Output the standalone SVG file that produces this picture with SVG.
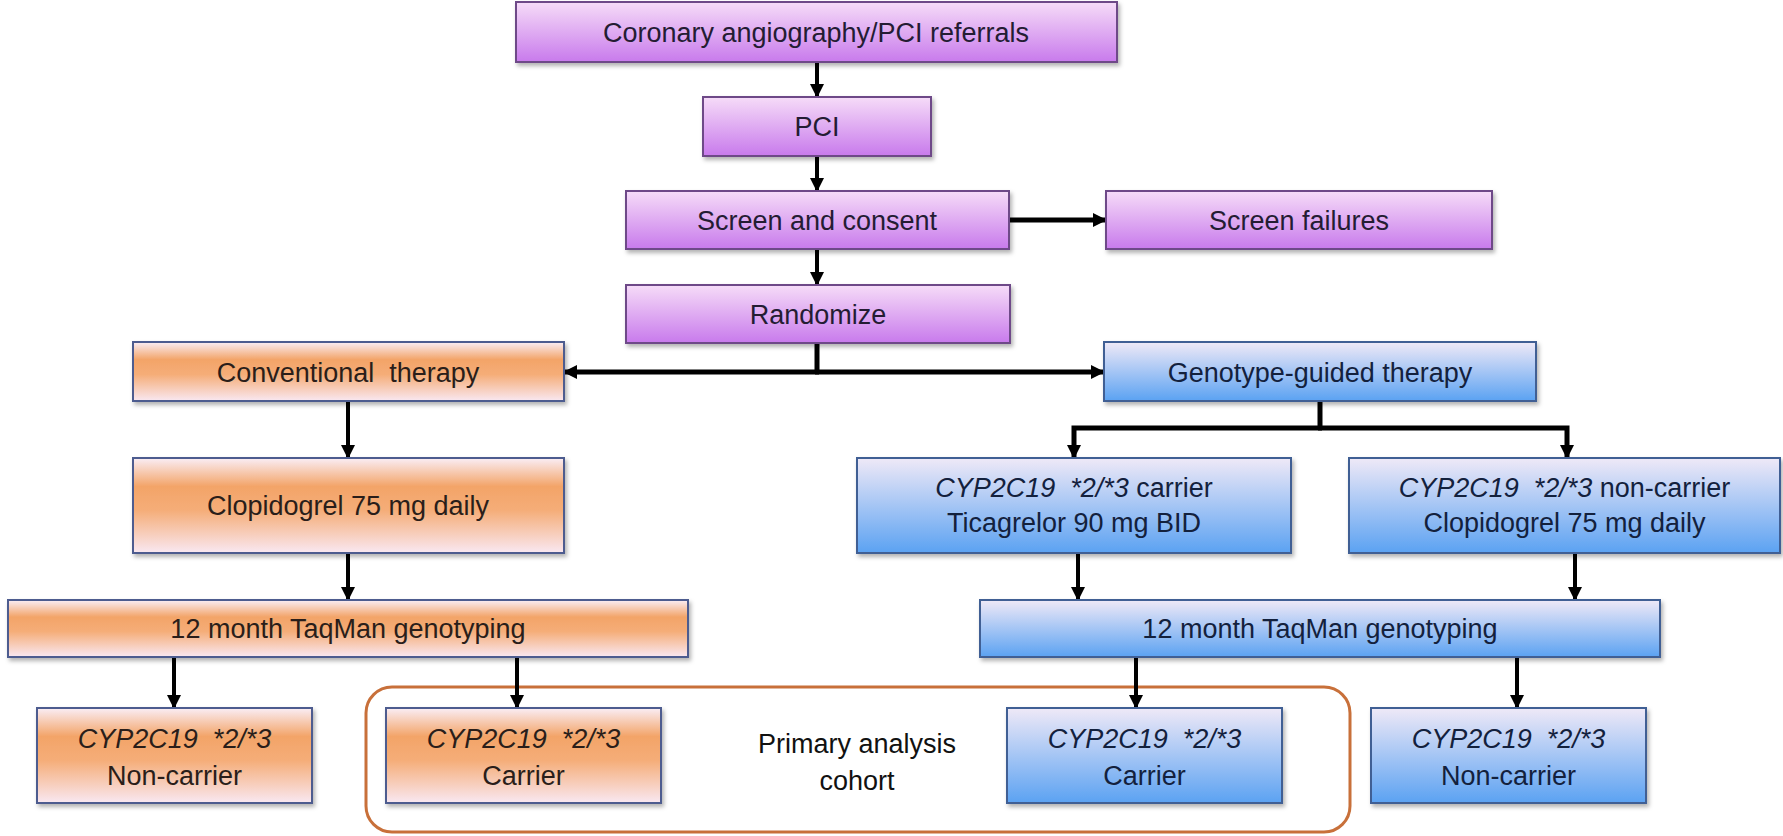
<svg xmlns="http://www.w3.org/2000/svg" width="1783" height="836" viewBox="0 0 1783 836">
<defs>
<linearGradient id="gPurple" x1="0" y1="0" x2="0" y2="1">
<stop offset="0" stop-color="#f6dcf8"/>
<stop offset="1" stop-color="#c87aec"/>
</linearGradient>
<linearGradient id="gOrange" x1="0" y1="0" x2="0" y2="1">
<stop offset="0" stop-color="#faeef6"/>
<stop offset="0.3" stop-color="#f3a468"/>
<stop offset="0.55" stop-color="#f5ad78"/>
<stop offset="1" stop-color="#f9e8f2"/>
</linearGradient>
<linearGradient id="gBlue" x1="0" y1="0" x2="0" y2="1">
<stop offset="0" stop-color="#efe9f7"/>
<stop offset="1" stop-color="#5ba2f2"/>
</linearGradient>
<filter id="shadow" x="-5%" y="-10%" width="110%" height="130%">
<feDropShadow dx="2" dy="3" stdDeviation="2" flood-color="#000" flood-opacity="0.3"/>
</filter>
<marker id="arrow" markerUnits="userSpaceOnUse" viewBox="0 0 14 14" refX="13" refY="7" markerWidth="14" markerHeight="14" orient="auto">
<path d="M0,0 L14,7 L0,14 z" fill="#000"/>
</marker>
<style>
.p{fill:url(#gPurple);stroke:#6e4a88;stroke-width:2;filter:url(#shadow)}
.o{fill:url(#gOrange);stroke:#4d5b8f;stroke-width:2;filter:url(#shadow)}
.b{fill:url(#gBlue);stroke:#3f5f94;stroke-width:2;filter:url(#shadow)}
text{font-family:"Liberation Sans",Arial,sans-serif;font-size:27px;text-anchor:middle;fill:#241c33}
.bt{fill:#13213d}
.ot{fill:#2a1e1a}
.i{font-style:italic}
.c{fill:none;stroke:#000;stroke-width:4}
.h{fill:none;stroke:#000;stroke-width:5}
</style>
</defs>
<rect width="1783" height="836" fill="#fff"/>

<g id="cohort">
<rect x="366" y="687" width="984" height="145" rx="26" fill="none" stroke="#c8703a" stroke-width="3"/>
<text x="857" y="753" fill="#111" style="fill:#111">Primary analysis</text>
<text x="857" y="790" style="fill:#111">cohort</text>
</g>

<g id="connectors">
<line class="c" x1="817" y1="62" x2="817" y2="97" marker-end="url(#arrow)"/>
<line class="c" x1="817" y1="156" x2="817" y2="191" marker-end="url(#arrow)"/>
<line class="h" x1="1009" y1="220" x2="1106" y2="220" marker-end="url(#arrow)"/>
<line class="c" x1="817" y1="249" x2="817" y2="285" marker-end="url(#arrow)"/>
<line class="h" x1="817" y1="343" x2="817" y2="372"/>
<line class="h" x1="819" y1="372" x2="564" y2="372" marker-end="url(#arrow)"/>
<line class="h" x1="815" y1="372" x2="1104" y2="372" marker-end="url(#arrow)"/>
<line class="c" x1="348" y1="401" x2="348" y2="458" marker-end="url(#arrow)"/>
<line class="c" x1="348" y1="553" x2="348" y2="600" marker-end="url(#arrow)"/>
<line class="h" x1="1320" y1="401" x2="1320" y2="428"/>
<path class="h" d="M1322,428 H1074 V458" marker-end="url(#arrow)"/>
<path class="h" d="M1318,428 H1567 V458" marker-end="url(#arrow)"/>
<line class="c" x1="1078" y1="553" x2="1078" y2="600" marker-end="url(#arrow)"/>
<line class="c" x1="1575" y1="553" x2="1575" y2="600" marker-end="url(#arrow)"/>
<line class="c" x1="174" y1="657" x2="174" y2="708" marker-end="url(#arrow)"/>
<line class="c" x1="517" y1="657" x2="517" y2="708" marker-end="url(#arrow)"/>
<line class="c" x1="1136" y1="657" x2="1136" y2="708" marker-end="url(#arrow)"/>
<line class="c" x1="1517" y1="657" x2="1517" y2="708" marker-end="url(#arrow)"/>
</g>

<g id="referrals">
<rect class="p" x="516" y="2" width="601" height="60"/>
<text x="816" y="42">Coronary angiography/PCI referrals</text>
</g>
<g id="pci">
<rect class="p" x="703" y="97" width="228" height="59"/>
<text x="817" y="136">PCI</text>
</g>
<g id="screen">
<rect class="p" x="626" y="191" width="383" height="58"/>
<text x="817" y="230">Screen and consent</text>
</g>
<g id="failures">
<rect class="p" x="1106" y="191" width="386" height="58"/>
<text x="1299" y="230">Screen failures</text>
</g>
<g id="randomize">
<rect class="p" x="626" y="285" width="384" height="58"/>
<text x="818" y="324">Randomize</text>
</g>

<g id="conventional">
<rect class="o" x="133" y="342" width="431" height="59"/>
<text class="ot" x="348" y="382" xml:space="preserve">Conventional  therapy</text>
</g>
<g id="clopidogrel-left">
<rect class="o" x="133" y="458" width="431" height="95"/>
<text class="ot" x="348" y="515">Clopidogrel 75 mg daily</text>
</g>
<g id="taqman-left">
<rect class="o" x="8" y="600" width="680" height="57"/>
<text class="ot" x="348" y="638">12 month TaqMan genotyping</text>
</g>
<g id="conv-noncarrier">
<rect class="o" x="37" y="708" width="275" height="95"/>
<text class="ot i" x="174.5" y="748" xml:space="preserve">CYP2C19  *2/*3</text>
<text class="ot" x="174.5" y="785">Non-carrier</text>
</g>
<g id="conv-carrier">
<rect class="o" x="386" y="708" width="275" height="95"/>
<text class="ot i" x="523.5" y="748" xml:space="preserve">CYP2C19  *2/*3</text>
<text class="ot" x="523.5" y="785">Carrier</text>
</g>

<g id="genotype">
<rect class="b" x="1104" y="342" width="432" height="59"/>
<text class="bt" x="1320" y="382">Genotype-guided therapy</text>
</g>
<g id="ticagrelor">
<rect class="b" x="857" y="458" width="434" height="95"/>
<text class="bt" x="1074" y="497" xml:space="preserve"><tspan class="i">CYP2C19  *2/*3</tspan> carrier</text>
<text class="bt" x="1074" y="532">Ticagrelor 90 mg BID</text>
</g>
<g id="clopidogrel-right">
<rect class="b" x="1349" y="458" width="431" height="95"/>
<text class="bt" x="1564.5" y="497" xml:space="preserve"><tspan class="i">CYP2C19  *2/*3</tspan> non-carrier</text>
<text class="bt" x="1564.5" y="532">Clopidogrel 75 mg daily</text>
</g>
<g id="taqman-right">
<rect class="b" x="980" y="600" width="680" height="57"/>
<text class="bt" x="1320" y="638">12 month TaqMan genotyping</text>
</g>
<g id="geno-carrier">
<rect class="b" x="1007" y="708" width="275" height="95"/>
<text class="bt i" x="1144.5" y="748" xml:space="preserve">CYP2C19  *2/*3</text>
<text class="bt" x="1144.5" y="785">Carrier</text>
</g>
<g id="geno-noncarrier">
<rect class="b" x="1371" y="708" width="275" height="95"/>
<text class="bt i" x="1508.5" y="748" xml:space="preserve">CYP2C19  *2/*3</text>
<text class="bt" x="1508.5" y="785">Non-carrier</text>
</g>
</svg>
